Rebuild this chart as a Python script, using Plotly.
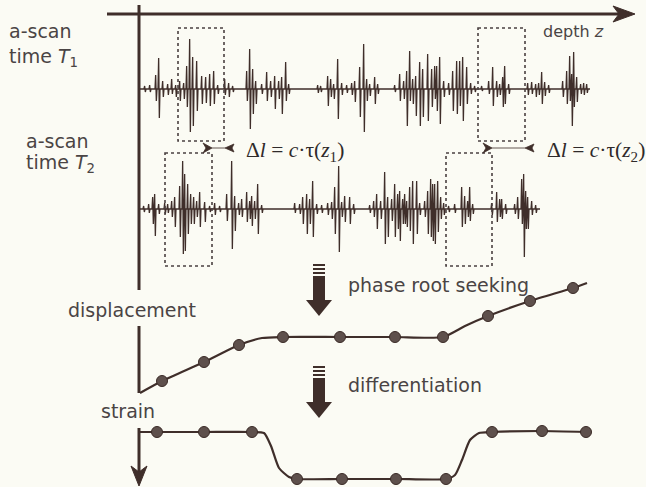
import plotly.graph_objects as go

W, H = 646, 487
INK = "#3f2e2a"
TXT = "#4a4444"
BG = "#fbfbf4"

# ---- A-scan 1 (time T1): spike position, upward and downward amplitude ----
scan1_base = 89
scan1_range = [139, 590]
scan1_x = [145, 150, 156, 159, 163, 168, 172, 176, 180, 184, 187, 190, 193, 197, 202, 206, 210, 214, 218,
           225, 229, 233, 247, 250, 253, 256, 262, 267, 271, 275, 279, 282, 286, 289, 318, 321, 328, 331,
           334, 338, 342, 347, 352, 355, 360, 364, 367, 370, 375, 378, 395, 400, 404, 407, 410, 413, 416,
           420, 423, 428, 432, 435, 437, 440, 444, 449, 453, 457, 460, 463, 467, 471, 475, 482, 489, 493,
           497, 500, 503, 505, 509, 528, 532, 536, 539, 542, 545, 549, 563, 567, 570, 572, 574, 577, 581,
           584, 587]
scan1_up = [3, 4, 14, 31, 8, 5, 10, 4, 8, 6, 23, 50, 32, 28, 13, 12, 15, 18, 4,
            10, 6, 3, 18, 40, 20, 8, 5, 17, 8, 13, 8, 12, 27, 5, 4, 3, 13, 10,
            5, 30, 6, 4, 6, 8, 22, 45, 10, 5, 12, 5, 4, 15, 8, 18, 38, 10, 13,
            27, 20, 35, 20, 23, 23, 32, 8, 6, 18, 28, 28, 32, 22, 6, 3, 3, 8, 22,
            8, 5, 12, 23, 5, 6, 7, 5, 6, 17, 7, 4, 8, 18, 33, 15, 37, 12, 5,
            6, 5]
scan1_dn = [3, 3, 12, 29, 8, 6, 5, 8, 12, 10, 18, 43, 37, 22, 15, 14, 17, 15, 5,
            6, 8, 3, 12, 40, 25, 15, 5, 12, 8, 20, 10, 25, 12, 5, 4, 3, 17, 8,
            10, 30, 6, 4, 6, 13, 28, 43, 12, 7, 15, 5, 3, 12, 10, 37, 12, 15, 27,
            37, 28, 32, 18, 10, 22, 35, 8, 6, 22, 25, 17, 32, 15, 5, 3, 2, 5, 17,
            8, 6, 18, 15, 5, 6, 5, 8, 6, 15, 7, 4, 8, 15, 12, 37, 18, 13, 5,
            6, 4]

# ---- A-scan 2 (time T2) ----
scan2_base = 209
scan2_range = [139, 540]
scan2_x = [144, 149, 153, 155, 159, 165, 168, 172, 175, 180, 183, 185, 188, 191, 194, 197, 200, 205, 210,
           215, 220, 227, 232, 235, 239, 242, 247, 250, 252, 255, 258, 262, 295, 300, 303, 307, 310, 313,
           317, 322, 328, 332, 335, 339, 342, 345, 350, 354, 370, 374, 377, 381, 385, 388, 392, 395, 398,
           400, 403, 405, 407, 410, 413, 417, 420, 425, 428, 431, 433, 435, 438, 441, 444, 449, 455, 462,
           465, 468, 470, 473, 492, 497, 500, 502, 506, 515, 518, 522, 524, 526, 528, 532, 536]
scan2_up = [3, 5, 12, 15, 5, 6, 5, 8, 12, 23, 48, 35, 25, 15, 12, 8, 17, 7, 3,
            6, 3, 15, 48, 13, 6, 10, 17, 8, 13, 8, 25, 4, 6, 5, 12, 15, 10, 28,
            5, 4, 6, 7, 22, 43, 7, 13, 12, 5, 4, 8, 15, 8, 37, 12, 10, 25, 15,
            18, 10, 15, 8, 22, 28, 28, 6, 8, 18, 30, 25, 25, 28, 12, 6, 3, 5, 22,
            13, 8, 22, 5, 6, 17, 10, 10, 5, 5, 12, 30, 35, 18, 12, 8, 4]
scan2_dn = [3, 4, 15, 27, 5, 5, 4, 8, 18, 28, 45, 42, 25, 15, 15, 8, 18, 13, 3,
            6, 3, 12, 40, 22, 6, 8, 13, 10, 17, 10, 25, 4, 4, 5, 15, 25, 15, 28,
            5, 4, 6, 10, 25, 43, 8, 13, 15, 5, 4, 8, 20, 10, 35, 28, 12, 28, 20,
            32, 15, 15, 18, 22, 35, 25, 6, 8, 25, 28, 32, 35, 23, 10, 6, 3, 4, 18,
            15, 8, 12, 5, 6, 13, 8, 10, 5, 5, 10, 15, 48, 20, 20, 6, 4]

# ---- displacement curve ----
disp_x = [140, 162, 204, 239, 262, 283, 340, 395, 443, 465, 488, 530, 573, 587]
disp_y = [393, 381, 362, 345, 338, 337, 337, 337, 337, 326, 316, 301, 288, 283]
disp_mx = [162, 204, 239, 283, 340, 395, 443, 488, 530, 573]
disp_my = [381, 362, 345, 337, 337, 337, 337, 316, 301, 288]

# ---- strain curve ----
strain_x = [139, 157, 204, 252, 264, 271, 279, 289, 297, 342, 396, 446, 455, 462, 470, 479, 492, 542, 586]
strain_y = [432, 432, 432, 432, 433, 446, 468, 477, 479, 479, 479, 479, 475, 460, 440, 433, 432, 431, 432]
strain_mx = [157, 204, 252, 297, 342, 396, 446, 492, 542, 586]
strain_my = [432, 432, 432, 479, 479, 479, 479, 432, 431, 432]


def scan_trace(xs, ups, dns, base, rng):
    px, py = [rng[0]], [base]
    for x, u, d in sorted(zip(xs, ups, dns)):
        px += [x - 1.0, x - 0.35, x + 0.35, x + 1.0]
        py += [base, base - u, base + d, base]
    px.append(rng[1]); py.append(base)
    return go.Scatter(x=px, y=py, mode="lines", line=dict(color=INK, width=1.3),
                      hoverinfo="skip", showlegend=False)


fig = go.Figure()
fig.add_trace(scan_trace(scan1_x, scan1_up, scan1_dn, scan1_base, scan1_range))
fig.add_trace(scan_trace(scan2_x, scan2_up, scan2_dn, scan2_base, scan2_range))

for lx, ly, mx, my in [(disp_x, disp_y, disp_mx, disp_my), (strain_x, strain_y, strain_mx, strain_my)]:
    fig.add_trace(go.Scatter(x=lx, y=ly, mode="lines", line=dict(color=INK, width=2.2, shape="spline", smoothing=0.6),
                             hoverinfo="skip", showlegend=False))
    fig.add_trace(go.Scatter(x=mx, y=my, mode="markers",
                             marker=dict(size=11, color="#5e504c", line=dict(color="#3a2a26", width=1)),
                             hoverinfo="skip", showlegend=False))

shapes = []
# axes
shapes.append(dict(type="line", x0=107, y0=14, x1=624, y1=14, line=dict(color=INK, width=3)))
shapes.append(dict(type="path", path="M 635 14 L 613 6 L 619 14 L 613 22 Z", fillcolor=INK, line=dict(color=INK, width=1)))
for y0, y1 in [(5, 290), (326, 393), (428, 474)]:
    shapes.append(dict(type="line", x0=139, y0=y0, x1=139, y1=y1, line=dict(color=INK, width=3)))
shapes.append(dict(type="path", path="M 139 486 L 131 466 L 139 472 L 147 466 Z", fillcolor=INK, line=dict(color=INK, width=1)))

# dotted boxes
for x0, y0, x1, y1 in [(178, 28, 224, 141), (478, 28, 525, 141), (165, 153, 212, 266), (446, 153, 492, 266)]:
    shapes.append(dict(type="rect", x0=x0, y0=y0, x1=x1, y1=y1, line=dict(color="#4a4040", width=1.6, dash="dot")))

# delta-l markers
for xa, xb in [(212, 225), (492, 525)]:
    shapes.append(dict(type="line", x0=xa, y0=148, x1=xb, y1=148, line=dict(color=INK, width=0.8)))
    shapes.append(dict(type="path", path=f"M {xa} 148 L {xa-9} 143 L {xa-6} 148 L {xa-9} 153 Z", fillcolor=INK, line=dict(color=INK, width=0.8)))
    shapes.append(dict(type="path", path=f"M {xb} 148 L {xb+9} 144 L {xb+7} 148 L {xb+9} 152 Z", fillcolor=INK, line=dict(color=INK, width=0.8)))

# thick down arrows
for top, shaft_end, tip in [(264, 302, 316), (366, 404, 418)]:
    for k in range(3):
        shapes.append(dict(type="rect", x0=313, x1=325, y0=top + 4 * k, y1=top + 4 * k + 2, fillcolor=INK, line=dict(width=0)))
    shapes.append(dict(type="rect", x0=313, x1=325, y0=top + 12, y1=shaft_end, fillcolor=INK, line=dict(width=0)))
    shapes.append(dict(type="path", path=f"M 306 {shaft_end-2} L 332 {shaft_end-2} L 319 {tip} Z", fillcolor=INK, line=dict(width=0)))

sans = dict(family="DejaVu Sans", size=19, color=TXT)
serif = dict(family="Liberation Serif", size=21.5, color="#2f2a2a")
ann = []
def txt(x, y, s, font, xanchor="left"):
    ann.append(dict(x=x, y=y, text=s, showarrow=False, xanchor=xanchor, yanchor="middle", font=font,
                    xref="x", yref="y"))

txt(7, 31, "a-scan", sans)
txt(7, 57, "time <i>T</i><sub>1</sub>", sans)
txt(24, 141, "a-scan", sans)
txt(24, 163, "time <i>T</i><sub>2</sub>", sans)
txt(541, 31, "depth <i>z</i>", dict(family="DejaVu Sans", size=16, color=TXT))
txt(244, 151, "Δ<i>l</i> = <i>c</i>·τ(<i>z</i><sub>1</sub>)", serif)
txt(545, 151, "Δ<i>l</i> = <i>c</i>·τ(<i>z</i><sub>2</sub>)", serif)
txt(346, 285, "phase root seeking", sans)
txt(66, 310, "displacement", sans)
txt(346, 385, "differentiation", sans)
txt(99, 411, "strain", sans)

fig.update_layout(
    width=W, height=H, margin=dict(l=0, r=0, t=0, b=0),
    paper_bgcolor=BG, plot_bgcolor=BG,
    xaxis=dict(range=[0, W], visible=False, fixedrange=True),
    yaxis=dict(range=[H, 0], visible=False, fixedrange=True),
    shapes=shapes, annotations=ann, showlegend=False,
)
fig.write_html("out.html", config={"displayModeBar": False},
               post_script="document.body.style.margin='0px';document.body.style.overflow='hidden';")
